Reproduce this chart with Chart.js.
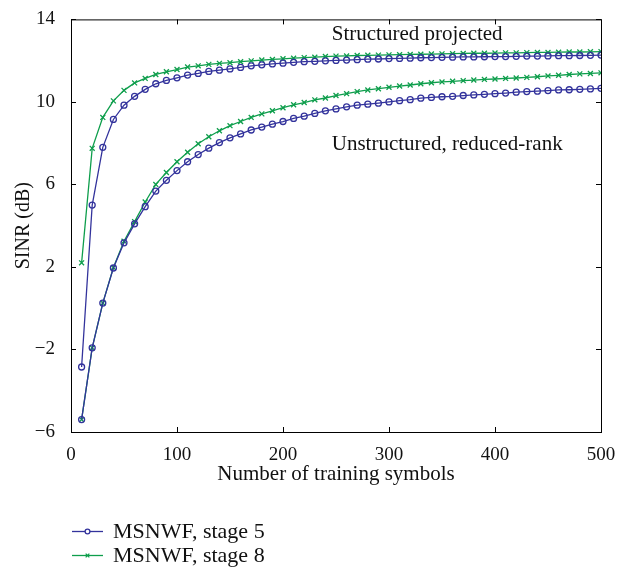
<!DOCTYPE html>
<html>
<head>
<meta charset="utf-8">
<script src="https://cdn.jsdelivr.net/npm/chart.js@4/dist/chart.umd.min.js"></script>
<style>
  html, body { margin: 0; padding: 0; background: #ffffff; }
  #wrap { width: 633px; height: 568px; }
</style>
</head>
<body>
<div id="wrap"><canvas id="c" width="633" height="568"></canvas></div>
<script>
// Number of training symbols
const symbols = [10,20,30,40,50,60,70,80,90,100,110,120,130,140,150,160,170,180,190,200,
  210,220,230,240,250,260,270,280,290,300,310,320,330,340,350,360,370,380,390,400,
  410,420,430,440,450,460,470,480,490,500];

// SINR (dB), structured projected receiver
const structStage5 = [-2.85,5.0,7.8,9.15,9.84,10.27,10.61,10.88,11.04,11.17,11.3,11.38,11.48,11.54,11.6,11.67,11.75,11.8,11.84,11.88,
  11.92,11.95,11.97,11.99,12.01,12.03,12.05,12.07,12.08,12.1,12.11,12.12,12.14,12.15,12.16,12.17,12.18,12.18,12.19,12.2,
  12.2,12.21,12.22,12.22,12.23,12.24,12.24,12.25,12.26,12.27];
const structStage8 = [2.2,7.75,9.25,10.05,10.56,10.92,11.14,11.33,11.46,11.57,11.69,11.75,11.82,11.87,11.9,11.95,11.99,12.03,12.06,12.09,
  12.12,12.15,12.17,12.2,12.22,12.23,12.25,12.26,12.27,12.28,12.29,12.3,12.31,12.32,12.33,12.34,12.35,12.36,12.36,12.37,
  12.38,12.38,12.39,12.4,12.4,12.41,12.42,12.42,12.43,12.44];

// SINR (dB), unstructured reduced-rank receiver
const unstructStage5 = [-5.4,-1.92,0.25,1.95,3.17,4.09,4.92,5.68,6.2,6.67,7.1,7.45,7.76,8.03,8.26,8.45,8.64,8.78,8.92,9.05,
  9.2,9.31,9.44,9.57,9.66,9.76,9.84,9.89,9.94,10.0,10.06,10.11,10.18,10.22,10.25,10.27,10.31,10.34,10.37,10.4,
  10.43,10.47,10.5,10.52,10.55,10.58,10.59,10.61,10.63,10.66];
const unstructStage8 = [-5.4,-1.92,0.25,1.97,3.25,4.2,5.15,6.0,6.58,7.1,7.56,7.97,8.31,8.6,8.85,9.05,9.25,9.42,9.57,9.72,
  9.86,9.97,10.1,10.19,10.31,10.4,10.5,10.58,10.64,10.71,10.77,10.82,10.88,10.93,10.97,11.0,11.03,11.06,11.09,11.11,
  11.14,11.16,11.19,11.22,11.26,11.29,11.33,11.36,11.38,11.41];

const legendLabels = ['MSNWF, stage 5', 'MSNWF, stage 8'];
const curveNotes = [
  { text: 'Structured projected', x: 246, y: 13.25 },
  { text: 'Unstructured, reduced-rank', x: 246, y: 7.95 }
];

const BLUE = '#33339c';
const GREEN = '#0e9e4c';
const SERIF = '"Liberation Serif", "DejaVu Serif", serif';

function pts(ys) { return symbols.map((x, i) => ({ x: x, y: ys[i] })); }

function series(label, ys, color, style) {
  return {
    label: label,
    data: pts(ys),
    borderColor: color,
    backgroundColor: 'rgba(255,255,255,0)',
    borderWidth: 1.3,
    pointStyle: style,
    pointRadius: style === 'circle' ? 3 : 3.5,
    pointBorderWidth: 1.3,
    pointBorderColor: color,
    pointBackgroundColor: 'rgba(255,255,255,0)',
    tension: 0
  };
}

// Box frame, inward ticks on all four sides, curve notes and the legend
const framePlugin = {
  id: 'frame',
  afterDraw(chart) {
    const { ctx, chartArea: a, scales } = chart;
    const xs = scales.x, ys = scales.y;
    ctx.save();
    ctx.strokeStyle = '#000';
    ctx.lineWidth = 1;
    ctx.strokeRect(a.left + 0.5, a.top + 0.5, a.right - a.left, a.bottom - a.top);
    const tl = 5;
    ctx.beginPath();
    xs.ticks.forEach(t => {
      const px = Math.round(xs.getPixelForValue(t.value)) + 0.5;
      ctx.moveTo(px, a.bottom); ctx.lineTo(px, a.bottom - tl);
      ctx.moveTo(px, a.top); ctx.lineTo(px, a.top + tl);
    });
    ys.ticks.forEach(t => {
      const py = Math.round(ys.getPixelForValue(t.value)) + 0.5;
      ctx.moveTo(a.left, py); ctx.lineTo(a.left + tl, py);
      ctx.moveTo(a.right, py); ctx.lineTo(a.right - tl, py);
    });
    ctx.stroke();

    ctx.fillStyle = '#111';
    ctx.font = '21px ' + SERIF;
    ctx.textBaseline = 'middle';
    ctx.textAlign = 'left';
    curveNotes.forEach(n => {
      ctx.fillText(n.text, xs.getPixelForValue(n.x), ys.getPixelForValue(n.y));
    });

    // legend under the plot
    const items = [
      { label: legendLabels[0], ds: chart.data.datasets[0] },
      { label: legendLabels[1], ds: chart.data.datasets[2] }
    ];
    items.forEach((it, i) => {
      const y = 531.5 + i * 24;
      const x0 = 72, x1 = 103;
      ctx.strokeStyle = it.ds.borderColor;
      ctx.fillStyle = '#ffffff';
      ctx.lineWidth = 1.3;
      ctx.beginPath(); ctx.moveTo(x0, y); ctx.lineTo(x1, y); ctx.stroke();
      Chart.helpers.drawPoint(ctx, {
        pointStyle: it.ds.pointStyle,
        radius: it.ds.pointStyle === 'circle' ? 2.4 : 2.6,
        borderWidth: 1.3,
        rotation: 0
      }, (x0 + x1) / 2, y);
      ctx.fillStyle = '#111';
      ctx.font = '22px ' + SERIF;
      ctx.fillText(it.label, 113, y + 1);
    });
    ctx.restore();
  }
};

const minusSign = v => String(v).replace('-', '\u2212');

new Chart(document.getElementById('c'), {
  type: 'line',
  data: {
    datasets: [
      series(legendLabels[0], structStage5, BLUE, 'circle'),
      series(legendLabels[0], unstructStage5, BLUE, 'circle'),
      series(legendLabels[1], structStage8, GREEN, 'crossRot'),
      series(legendLabels[1], unstructStage8, GREEN, 'crossRot')
    ]
  },
  options: {
    responsive: false,
    animation: false,
    layout: { padding: { top: 17, right: 32, bottom: 81, left: 0 } },
    plugins: { legend: { display: false }, tooltip: { enabled: false } },
    scales: {
      x: {
        type: 'linear', min: 0, max: 500,
        ticks: { stepSize: 100, color: '#111', font: { family: SERIF, size: 19 }, padding: 4, maxRotation: 0,
                 callback: minusSign },
        grid: { display: false },
        border: { display: true, color: '#000', width: 1 },
        title: { display: true, text: 'Number of training symbols', color: '#111',
                 font: { family: SERIF, size: 21 }, padding: { top: 0, bottom: 0 } },
        afterFit(s) { s.height = 55; }
      },
      y: {
        type: 'linear', min: -6, max: 14,
        ticks: { stepSize: 4, color: '#111', font: { family: SERIF, size: 19 }, padding: 8,
                 callback: minusSign },
        grid: { display: false },
        border: { display: true, color: '#000', width: 1 },
        title: { display: true, text: 'SINR (dB)', color: '#111',
                 font: { family: SERIF, size: 20 }, padding: { top: 12, bottom: 0 } },
        afterFit(s) { s.width = 71; }
      }
    }
  },
  plugins: [framePlugin]
});
</script>
</body>
</html>
